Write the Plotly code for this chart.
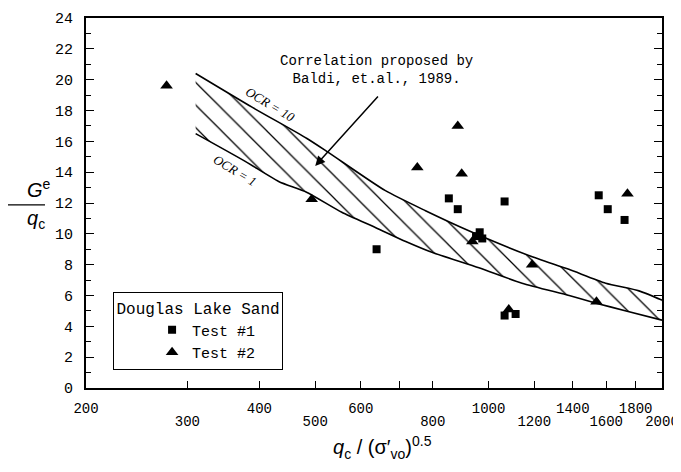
import numpy as np
import plotly.graph_objects as go

# ---------------- data ----------------
test1_x = [639, 853, 884, 1066, 951, 965, 975, 1066, 1114, 1553, 1610, 1722]
test1_y = [9.0, 12.3, 11.6, 12.1, 9.85, 10.1, 9.7, 4.7, 4.8, 12.5, 11.6, 10.9]

test2_x = [276, 493, 752, 884, 898, 937, 1084, 1190, 1539, 1742]
test2_y = [19.6, 12.25, 14.3, 17.0, 13.9, 9.5, 5.1, 8.0, 5.6, 12.6]

ocr10_x = [310, 389, 483, 526, 662, 777, 924, 1174, 1378, 1597, 1824, 2000]
ocr10_y = [20.4, 18.2, 16.2, 15.3, 12.8, 11.5, 10.2, 8.6, 7.7, 6.8, 6.3, 5.7]

ocr1_x = [310, 378, 432, 483, 556, 637, 718, 797, 962, 1143, 1380, 1537, 1733, 2000]
ocr1_y = [16.5, 14.7, 13.4, 12.7, 11.4, 10.4, 9.5, 8.8, 7.8, 6.8, 6.0, 5.5, 5.0, 4.4]

x_tickmarks = [200, 300, 400, 500, 600, 700, 800, 1000, 1200, 1400, 1600, 1800]
x_labels_row1 = [200, 400, 600, 1000, 1400, 1800]
x_labels_row2 = [300, 500, 800, 1200, 1600, 2000]
y_tickvals = list(range(0, 25, 2))

arrow_tip = (500, 14.4)
arrow_tail = (646, 19.0)
note_pos = (640, 20.6)
ocr10_label = (418, 18.4)
ocr1_label = (363, 14.1)

MONO = "Liberation Mono"
XRANGE = [np.log10(200), np.log10(2000)]

row1_text = [str(v) if v in x_labels_row1 else "" for v in x_tickmarks]

fig = go.Figure()

fig.add_trace(go.Scatter(
    x=ocr1_x, y=ocr1_y, mode="lines",
    line=dict(color="black", width=1.6, shape="spline", smoothing=0.6),
    showlegend=False, hoverinfo="skip"))
fig.add_trace(go.Scatter(
    x=ocr10_x, y=ocr10_y, mode="lines", fill="tonexty",
    fillcolor="rgba(255,255,255,0)",
    fillpattern=dict(shape="\\", fgcolor="black", fgopacity=1,
                     bgcolor="rgba(255,255,255,0)",
                     size=16, solidity=0.08),
    line=dict(color="black", width=1.6, shape="spline", smoothing=0.6),
    showlegend=False, hoverinfo="skip"))

fig.add_trace(go.Scatter(
    x=test1_x, y=test1_y, mode="markers", name="Test #1",
    marker=dict(symbol="square", size=8, color="black")))
fig.add_trace(go.Scatter(
    x=test2_x, y=test2_y, mode="markers", name="Test #2",
    marker=dict(symbol="triangle-up", size=11, color="black")))

# invisible trace to activate the second (label-only) x axis
fig.add_trace(go.Scatter(
    x=[x_labels_row2[0]], y=[0], xaxis="x2", yaxis="y", mode="markers",
    marker=dict(opacity=0), showlegend=False, hoverinfo="skip"))

fig.update_layout(
    width=673, height=464,
    margin=dict(l=78, r=19, t=10, b=84, autoexpand=False),
    paper_bgcolor="white", plot_bgcolor="white",
    font=dict(family=MONO, size=15, color="black"),
    legend=dict(
        title=dict(text="Douglas Lake Sand", side="top center",
                   font=dict(family=MONO, size=16)),
        traceorder="normal",
        x=0.047, y=0.26, xanchor="left", yanchor="top",
        bordercolor="black", borderwidth=1, bgcolor="white",
        font=dict(family=MONO, size=15), indentation=38,
        itemwidth=30, tracegroupgap=0),
    xaxis=dict(
        type="log", range=XRANGE,
        showgrid=False, zeroline=False,
        showline=True, linecolor="black", linewidth=2, mirror=True,
        ticks="inside", ticklen=7, tickwidth=1.2, tickcolor="black",
        tickvals=x_tickmarks, ticktext=row1_text,
        tickangle=0,
        tickfont=dict(family=MONO, size=14, color="black"),
        ticklabelstandoff=6, automargin=False,
    ),
    xaxis2=dict(
        type="log", range=XRANGE, overlaying="x", anchor="y", side="bottom",
        showgrid=False, zeroline=False, showline=False, ticks="",
        tickvals=x_labels_row2, ticktext=[str(v) for v in x_labels_row2],
        tickangle=0,
        tickfont=dict(family=MONO, size=14, color="black"),
        ticklabelstandoff=23, automargin=False,
    ),
    yaxis=dict(
        range=[0, 24], showgrid=False, zeroline=False,
        showline=True, linecolor="black", linewidth=2, mirror="ticks",
        ticks="inside", ticklen=8, tickwidth=1.2, tickcolor="black",
        tickvals=y_tickvals,
        minor=dict(ticks="inside", ticklen=5, dtick=1, tickcolor="black", tickwidth=1),
        tickfont=dict(family=MONO, size=15, color="black"),
        ticklabelstandoff=8, automargin=False,
    ),
)

ann = []
ann.append(dict(
    x=np.log10(arrow_tip[0]), y=arrow_tip[1], xref="x", yref="y",
    ax=np.log10(arrow_tail[0]), ay=arrow_tail[1], axref="x", ayref="y",
    showarrow=True, arrowhead=2, arrowsize=1.3, arrowwidth=1.5,
    arrowcolor="black", text=""))
ann.append(dict(
    x=np.log10(note_pos[0]), y=note_pos[1], xref="x", yref="y",
    text="Correlation proposed by<br>Baldi, et.al., 1989.",
    showarrow=False, font=dict(family=MONO, size=14, color="black"),
    align="center"))
ann.append(dict(
    x=np.log10(ocr10_label[0]), y=ocr10_label[1], xref="x", yref="y",
    text="<i>OCR = 10</i>", showarrow=False, textangle=31,
    font=dict(family="Liberation Serif", size=13, color="black")))
ann.append(dict(
    x=np.log10(ocr1_label[0]), y=ocr1_label[1], xref="x", yref="y",
    text="<i>OCR = 1</i>", showarrow=False, textangle=31,
    font=dict(family="Liberation Serif", size=13, color="black")))
# axis titles
ann.append(dict(
    x=-0.106, y=0.54, xref="paper", yref="paper",
    text="<i>G</i><sup>e</sup>", showarrow=False,
    font=dict(family="Liberation Sans", size=20, color="black")))
ann.append(dict(
    x=-0.106, y=0.455, xref="paper", yref="paper",
    text="<i>q</i><sub>c</sub>", showarrow=False,
    font=dict(family="Liberation Sans", size=20, color="black")))
ann.append(dict(
    x=0.514, y=-0.205, xref="paper", yref="paper",
    text="<i>q</i><sub>c</sub> / (σ′<sub>vo</sub>)<sup>0.5</sup>",
    showarrow=False,
    font=dict(family="Liberation Sans", size=20, color="black")))
fig.update_layout(annotations=ann)

fig.add_shape(type="line", xref="paper", yref="paper",
              x0=-0.1406, x1=-0.0712, y0=0.495, y1=0.495,
              line=dict(color="black", width=1.2))

fig.write_html("out.html")
